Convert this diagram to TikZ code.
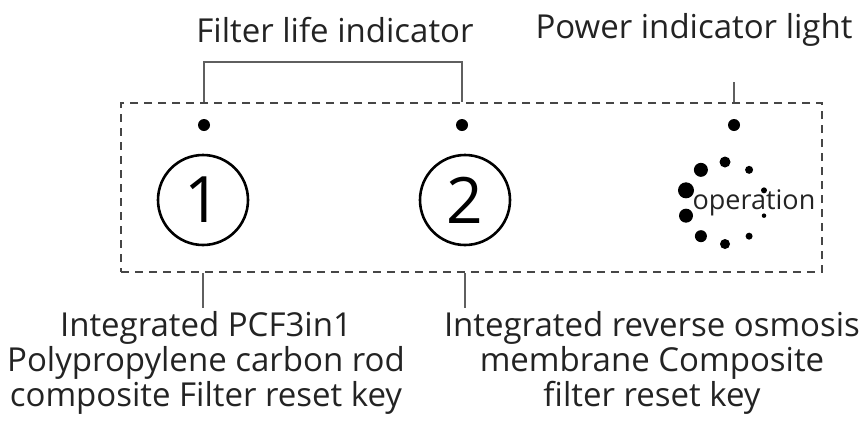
\documentclass[tikz,border=0pt]{standalone}
\usepackage{fontspec}
\setmainfont{Open Sans}
\usepackage{tikz}
\usetikzlibrary{positioning,calc}
\definecolor{panelgray}{RGB}{70,70,70}
\definecolor{leadgray}{RGB}{95,95,95}
\definecolor{textgray}{RGB}{35,35,35}

\begin{document}
\begin{tikzpicture}[
  x=1pt, y=-1pt,
  label/.style={text=textgray, font=\fontsize{33}{35}\selectfont, align=center, inner sep=0pt},
  lamp/.style={circle, fill=black, inner sep=0pt, minimum size=12pt},
  resetkey/.style={circle, draw=black, line width=2.6pt, minimum size=90pt, inner sep=0pt, font=\fontsize{64}{64}\selectfont},
  lead/.style={leadgray, line width=1.4pt},
  panel/.style={draw=panelgray, dashed, dash pattern=on 8pt off 6pt, line width=2pt}
]
\useasboundingbox (0,0) rectangle (865,437);

% dashed front panel
\node[panel, minimum width=701pt, minimum height=169pt, inner sep=0pt] (front) at (471.5,187.5) {};

% titles above the panel
\node[label] (filtertitle) at (335,30) {Filter life indicator};
\node[label] (powertitle) at (694,30) {Power indicator light};

% indicator lamps
\node[lamp] (lampA) at (204,125) {};
\node[lamp] (lampB) at (462,125) {};
\node[lamp] (lampP) at (734,125) {};

% reset keys
\node[resetkey] (keyA) at (203,200) {1};
\node[resetkey] (keyB) at (465,200) {2};

% operation spinner
\node[text=textgray, font=\fontsize{27}{27}\selectfont, inner sep=0pt] (operation) at (754,203) {operation};
\foreach \ang/\sz [count=\i] in {90/11, 54/8, 18/6, -18/4.5, -54/7, -90/10, -126/12, -162/14, 162/16, 126/14}
  \node[circle, fill=black, inner sep=0pt, minimum size=\sz pt] (spin\i) at ($(725,203)+(-\ang:41)$) {};

% descriptions below the panel
\node[label] (descA) at (206,363) {Integrated PCF3in1\\Polypropylene carbon rod\\composite Filter reset key};
\node[label] (descB) at (652,363) {Integrated reverse osmosis\\membrane Composite\\filter reset key};

% leader lines
\coordinate (bracket) at (333,62);
\coordinate (powerend) at (734,82);
\draw[lead] (lampA |- front.north) -- (lampA |- bracket) -- (lampB |- bracket) -- (lampB |- front.north);
\draw[lead] (powerend) -- (lampP |- front.north);
\draw[lead] (keyA |- front.south) -- ($(keyA |- descA.north)+(0,-3)$);
\draw[lead] (keyB |- front.south) -- ($(keyB |- descB.north)+(0,-3)$);
\end{tikzpicture}
\end{document}
